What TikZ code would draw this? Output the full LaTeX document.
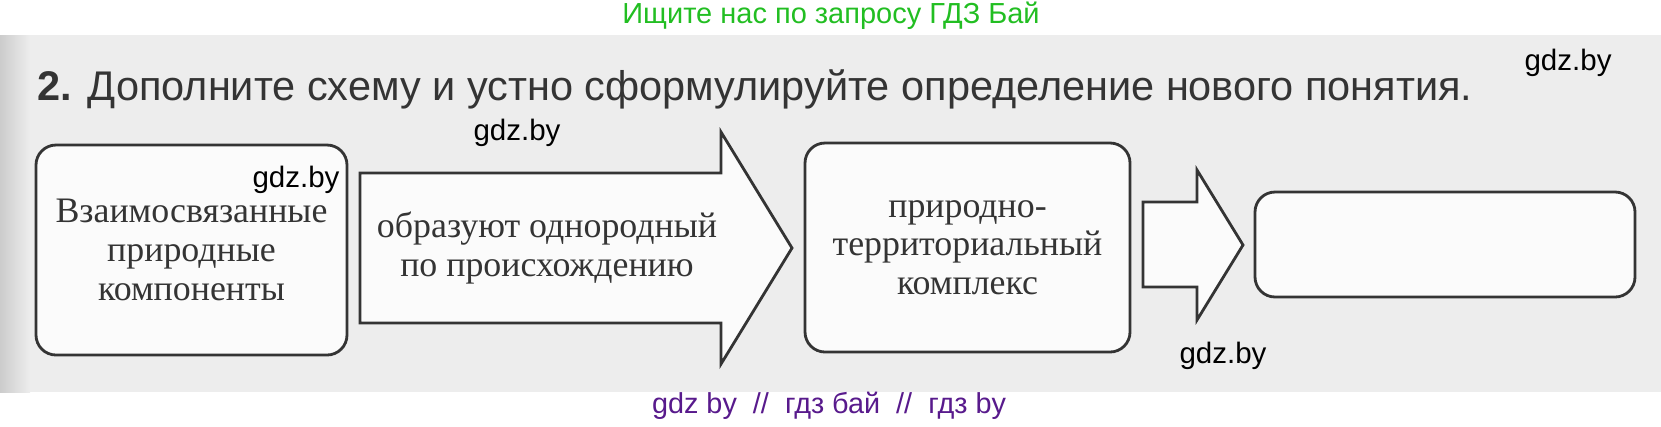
\documentclass[tikz,border=0pt]{standalone}
\usepackage{fontspec}
\setmainfont{Liberation Serif}
\newfontfamily\headfont{Liberation Sans}
\usetikzlibrary{positioning}
\definecolor{scangray}{RGB}{237,237,237}
\definecolor{inkgray}{RGB}{52,52,52}
\definecolor{siteGreen}{RGB}{34,190,34}
\definecolor{sitePurple}{RGB}{88,26,140}

\begin{document}
\begin{tikzpicture}[
        block/.style={draw=inkgray, line width=0.8pt, rounded corners=0.2cm, fill=gray!3, align=center, text=inkgray, inner sep=0pt, font=\fontsize{10.2}{11}\selectfont},
        blockarrow/.style={draw=inkgray, line width=0.8pt, fill=gray!3, line join=miter},
        watermark/.style={font=\headfont\fontsize{8.4}{10}\selectfont, inner sep=0pt}
    ]
        \useasboundingbox (0,0) rectangle (16.61,4.26);

        % Scanned page
        \fill[scangray] (0,0.34) rectangle (16.61,3.91);
        \shade[left color=gray!40, right color=scangray] (0,0.34) rectangle (0.3,3.91);

        % Header and footer
        \node[font=\headfont\fontsize{8.25}{10}\selectfont, text=siteGreen] (search) at (8.31,4.10) {Ищите нас по запросу ГДЗ Бай};
        \node[font=\headfont\fontsize{8.2}{10}\selectfont, text=sitePurple] (footer) at (8.29,0.20) {gdz by~~//~~гдз бай~~//~~гдз by};

        % Task
        \node[anchor=base west, inner sep=0pt, text=inkgray, font=\headfont\fontsize{11.8}{14}\selectfont] (task) at (0.37,3.26) {\textbf{2.} Дополните схему и устно сформулируйте определение нового понятия.};

        % Boxes
        \node[block, minimum width=3.11cm, minimum height=2.10cm] (parts) at (1.915,1.76) {Взаимосвязанные\\природные\\компоненты};
        \node[block, minimum width=3.25cm, minimum height=2.09cm] (ptk) at (9.675,1.785) {природно-\\территориальный\\комплекс};
        \node[block, minimum width=3.80cm, minimum height=1.05cm] (answer) at (14.45,1.815) {};

        % Block arrows
        \draw[blockarrow] (3.60,2.53) -- (7.21,2.53) -- (7.21,2.94) -- (7.92,1.78) -- (7.21,0.62) -- (7.21,1.03) -- (3.60,1.03) -- cycle;
        \node[text=inkgray, align=center, font=\fontsize{10.2}{11}\selectfont] (forms) at (5.47,1.78) {образуют однородный\\по происхождению};
        \draw[blockarrow] (11.43,2.24) -- (11.97,2.24) -- (11.97,2.56) -- (12.43,1.81) -- (11.97,1.06) -- (11.97,1.39) -- (11.43,1.39) -- cycle;

        % Watermarks
        \node[watermark] (wm1) at (15.68,3.63) {gdz.by};
        \node[watermark] (wm2) at (5.17,2.93) {gdz.by};
        \node[watermark] (wm3) at (2.96,2.46) {gdz.by};
        \node[watermark] (wm4) at (12.23,0.70) {gdz.by};
    \end{tikzpicture}
\end{document}
